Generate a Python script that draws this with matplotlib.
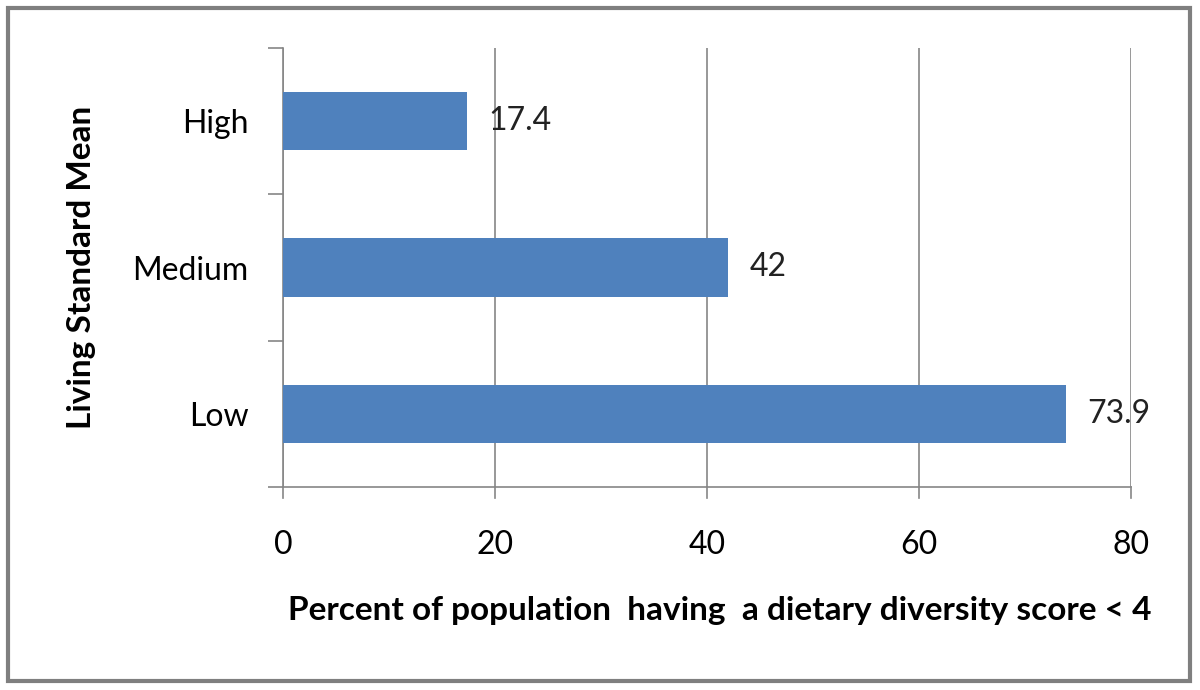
import matplotlib.pyplot as plt
from matplotlib.patches import Rectangle

plt.rcParams['font.family'] = ['Lato', 'DejaVu Sans']

categories = ["Low", "Medium", "High"]
values = [73.9, 42, 17.4]
value_labels = ["73.9", "42", "17.4"]
xticks = [0, 20, 40, 60, 80]

fig = plt.figure(figsize=(12, 6.9), dpi=100)
ax = fig.add_axes([283/1200, 1 - 487/690, (1131-283)/1200, (487-48)/690])

# outer border of the chart
fig.patches.append(Rectangle((8/1200, 9/690), 1182/1200, 673/690, transform=fig.transFigure,
                             fill=False, edgecolor="#7f7f7f", linewidth=3))

pos = range(len(categories))
ax.barh(pos, values, height=0.4, color="#4f81bd", zorder=3)
for p, v, lab in zip(pos, values, value_labels):
    ax.text(v + 2.0, p, lab, va="center", ha="left", fontsize=23, color="#222222", zorder=4)

ax.set_xlim(0, 80)
ax.set_ylim(-0.5, 2.5)
ax.set_xticks(xticks)
ax.set_xticklabels([str(t) for t in xticks], fontsize=23)
ax.set_yticks(list(pos))
ax.set_yticklabels(categories, fontsize=23)
ax.tick_params(axis="y", length=0, pad=25)
ax.tick_params(axis="x", length=0, pad=31)
# category boundary ticks on y axis
ax.set_yticks([-0.5, 0.5, 1.5, 2.5], minor=True)
ax.tick_params(axis="y", which="minor", length=11, color="#868686", width=1.2)
ax.grid(axis="x", color="#868686", linewidth=1.2, zorder=0)
for t in xticks:
    ax.plot([t, t], [-0.5, -0.575], color="#868686", linewidth=1.2, clip_on=False)

for s in ["top", "right"]:
    ax.spines[s].set_visible(False)
ax.spines["left"].set_color("#868686")
ax.spines["bottom"].set_color("#868686")
ax.spines["left"].set_linewidth(1.2)
ax.spines["bottom"].set_linewidth(1.2)

ax.set_xlabel("Percent of population  having  a dietary diversity score < 4",
              fontsize=24, fontweight="bold", labelpad=26, x=0.515)
ax.set_ylabel("Living Standard Mean", fontsize=24, fontweight="bold", labelpad=26)

fig.savefig("out.png", dpi=100)
